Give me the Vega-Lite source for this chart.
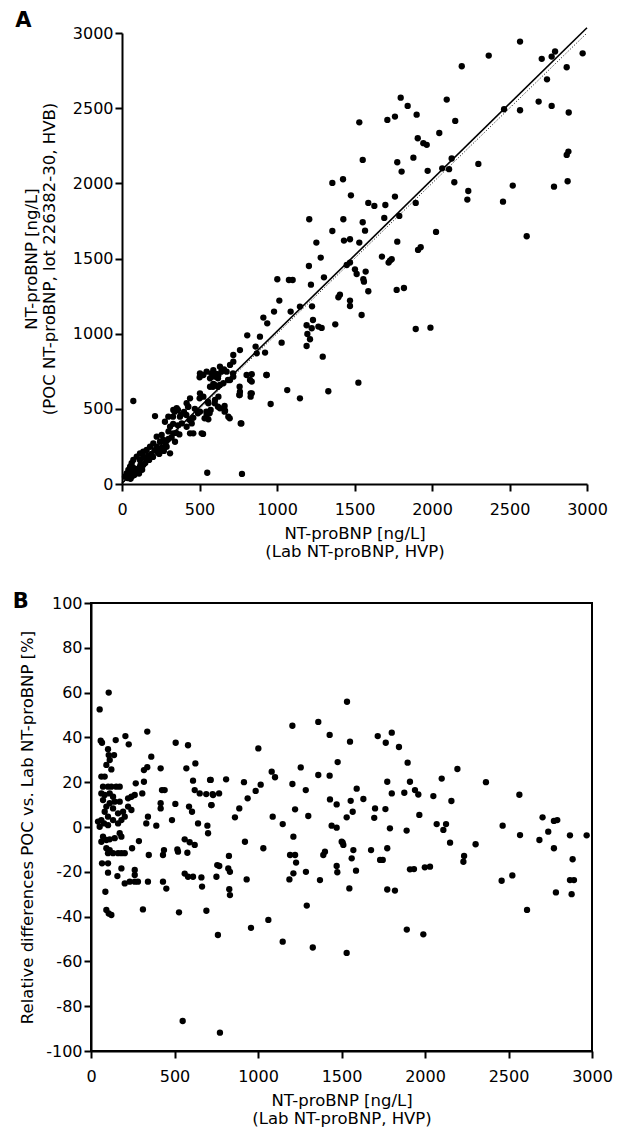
{
"$schema": "https://vega.github.io/schema/vega-lite/v6.json",
"padding": {"left": 11, "top": 9, "right": 5, "bottom": 5},
"vconcat": [
{
"width": 496, "height": 451,
"view": {"stroke": null},
"title": {"text": "A", "anchor": "start", "frame": "bounds", "font": "DejaVu Sans", "fontSize": 21, "fontWeight": "bold", "color": "black", "baseline": "bottom", "offset": -27, "dx": -8},
"layer": [
{"data": {"name": "a"}, "mark": {"type": "circle", "size": 40, "color": "black", "opacity": 1},
 "encoding": {
  "x": {"field": "lab", "type": "quantitative", "scale": {"domain": [0, 3000], "nice": false, "range": [31, 496]}, "axis": {"values": [0, 500, 1000, 1500, 2000, 2500, 3000], "format": "d", "title": ["NT-proBNP [ng/L]", "(Lab NT-proBNP, HVP)"]}},
  "y": {"field": "poc", "type": "quantitative", "scale": {"domain": [0, 3000], "nice": false}, "axis": {"offset": -31, "values": [0, 500, 1000, 1500, 2000, 2500, 3000], "format": "d", "titlePadding": 15, "title": ["NT-proBNP [ng/L]", "(POC NT-proBNP, lot 226382-30, HVB)"]}}
 }},
{"mark": {"type": "rule", "color": "black", "strokeWidth": 2}, "encoding": {"x": {"datum": 0, "type": "quantitative"}, "x2": {"datum": 3000}, "y": {"datum": 3000, "type": "quantitative"}}},
{"mark": {"type": "rule", "color": "black", "strokeWidth": 2}, "encoding": {"x": {"datum": 3000, "type": "quantitative"}, "y": {"datum": 0, "type": "quantitative"}, "y2": {"datum": 3000}}},
{"data": {"name": "fit"}, "mark": {"type": "line", "color": "black", "strokeWidth": 1.6, "clip": false},
 "encoding": {"x": {"field": "lab", "type": "quantitative"}, "y": {"field": "poc", "type": "quantitative"}}},
{"data": {"name": "ident"}, "mark": {"type": "line", "color": "black", "strokeWidth": 1, "strokeDash": [1, 2]},
 "encoding": {"x": {"field": "lab", "type": "quantitative"}, "y": {"field": "poc", "type": "quantitative"}}}
]
},
{
"width": 501, "height": 448,
"title": {"text": "B", "anchor": "start", "frame": "bounds", "font": "DejaVu Sans", "fontSize": 21, "fontWeight": "bold", "color": "black", "baseline": "bottom", "offset": -38, "dx": -7},
"layer": [
{"data": {"name": "b"}, "mark": {"type": "circle", "size": 40, "color": "black", "opacity": 1},
 "encoding": {
  "x": {"field": "lab", "type": "quantitative", "scale": {"domain": [0, 3000], "nice": false}, "axis": {"values": [0, 500, 1000, 1500, 2000, 2500, 3000], "format": "d", "title": ["NT-proBNP [ng/L]", "(Lab NT-proBNP, HVP)"]}},
  "y": {"field": "diff", "type": "quantitative", "scale": {"domain": [-100, 100], "nice": false}, "axis": {"values": [-100, -80, -60, -40, -20, 0, 20, 40, 60, 80, 100], "labelExpr": "datum.value < 0 ? '-' + abs(datum.value) : '' + datum.value", "titlePadding": 10, "title": "Relative differences POC vs. Lab NT-proBNP [%]"}}
 }},
{"mark": {"type": "rule", "color": "black", "strokeWidth": 2}, "encoding": {"y": {"datum": 0}}}
]
}
],
"spacing": 30,
"datasets": {
"a": [
{"lab":2568,"poc":2943},{"lab":2366,"poc":2850},{"lab":2192,"poc":2779},{"lab":2708,"poc":2828},{"lab":2772,"poc":2843},{"lab":2794,"poc":2877},{"lab":2972,"poc":2865},{"lab":2869,"poc":2772},{"lab":2742,"poc":2692},{"lab":1798,"poc":2570},{"lab":1843,"poc":2515},{"lab":2095,"poc":2557},{"lab":1531,"poc":2406},{"lab":1712,"poc":2422},{"lab":1761,"poc":2444},{"lab":1901,"poc":2457},{"lab":2150,"poc":2415},{"lab":2465,"poc":2493},{"lab":2568,"poc":2486},{"lab":2688,"poc":2544},{"lab":2772,"poc":2515},{"lab":2882,"poc":2471},{"lab":1908,"poc":2300},{"lab":1944,"poc":2267},{"lab":1966,"poc":2256},{"lab":2047,"poc":2335},{"lab":1553,"poc":2156},{"lab":1880,"poc":2171},{"lab":1776,"poc":2140},{"lab":1804,"poc":2078},{"lab":1972,"poc":2083},{"lab":2066,"poc":2100},{"lab":2110,"poc":2094},{"lab":2127,"poc":2165},{"lab":2299,"poc":2129},{"lab":2144,"poc":2007},{"lab":2234,"poc":1949},{"lab":2228,"poc":1892},{"lab":2458,"poc":1878},{"lab":2521,"poc":1985},{"lab":2869,"poc":2189},{"lab":2880,"poc":2211},{"lab":2787,"poc":1978},{"lab":2875,"poc":2014},{"lab":2611,"poc":1648},
{"lab":1357,"poc":2003},{"lab":1426,"poc":2027},{"lab":1477,"poc":1920},{"lab":1589,"poc":1870},{"lab":1628,"poc":1850},{"lab":1699,"poc":1856},{"lab":1761,"poc":1912},{"lab":1895,"poc":1870},{"lab":1208,"poc":1761},{"lab":1428,"poc":1761},{"lab":1553,"poc":1741},{"lab":1692,"poc":1770},{"lab":1789,"poc":1783},{"lab":1357,"poc":1683},{"lab":1568,"poc":1685},{"lab":1254,"poc":1606},{"lab":1432,"poc":1619},{"lab":1471,"poc":1628},{"lab":1531,"poc":1606},{"lab":1776,"poc":1612},{"lab":2026,"poc":1677},{"lab":1282,"poc":1506},{"lab":1677,"poc":1513},{"lab":1729,"poc":1486},{"lab":1720,"poc":1473},{"lab":1740,"poc":1495},{"lab":1910,"poc":1557},{"lab":1927,"poc":1575},{"lab":1206,"poc":1450},{"lab":1450,"poc":1457},{"lab":1471,"poc":1473},{"lab":1503,"poc":1428},{"lab":1514,"poc":1397},{"lab":1572,"poc":1413},{"lab":1303,"poc":1375},{"lab":1557,"poc":1362},
{"lab":1561,"poc":1346},{"lab":1589,"poc":1282},{"lab":1219,"poc":1326},{"lab":1226,"poc":1182},{"lab":1396,"poc":1242},{"lab":1406,"poc":1259},{"lab":1471,"poc":1220},{"lab":1471,"poc":1184},{"lab":1772,"poc":1291},{"lab":1819,"poc":1304},{"lab":1546,"poc":1124},{"lab":1376,"poc":1062},{"lab":1232,"poc":1091},{"lab":1191,"poc":1056},{"lab":1224,"poc":1036},{"lab":1288,"poc":1038},{"lab":1213,"poc":963},{"lab":1191,"poc":918},{"lab":1295,"poc":847},{"lab":1895,"poc":1031},{"lab":1990,"poc":1040},{"lab":1525,"poc":674},{"lab":1331,"poc":617},{"lab":1148,"poc":570},
{"lab":1002,"poc":1362},{"lab":1077,"poc":1357},{"lab":1101,"poc":1357},{"lab":1015,"poc":1220},{"lab":981,"poc":1147},{"lab":912,"poc":1107},{"lab":937,"poc":1069},{"lab":1088,"poc":1147},{"lab":1148,"poc":1180},{"lab":890,"poc":980},{"lab":862,"poc":914},{"lab":923,"poc":874},{"lab":1030,"poc":940},{"lab":837,"poc":730},{"lab":837,"poc":681},{"lab":837,"poc":603},{"lab":934,"poc":725},{"lab":1066,"poc":625},{"lab":959,"poc":532},{"lab":808,"poc":989},{"lab":869,"poc":869},{"lab":761,"poc":891},{"lab":718,"poc":858},{"lab":1196,"poc":998},{"lab":1267,"poc":1047},
{"lab":718,"poc":814},{"lab":697,"poc":792},{"lab":632,"poc":780},{"lab":658,"poc":763},{"lab":589,"poc":758},{"lab":546,"poc":747},{"lab":622,"poc":725},{"lab":600,"poc":714},{"lab":568,"poc":703},{"lab":525,"poc":725},{"lab":503,"poc":736},{"lab":697,"poc":692},{"lab":654,"poc":670},{"lab":632,"poc":659},{"lab":718,"poc":714},{"lab":675,"poc":747},{"lab":804,"poc":725},{"lab":826,"poc":692},{"lab":830,"poc":603},{"lab":830,"poc":581},{"lab":761,"poc":614},{"lab":757,"poc":592},{"lab":766,"poc":403},{"lab":589,"poc":665},{"lab":568,"poc":647},{"lab":622,"poc":581},{"lab":600,"poc":559},{"lab":503,"poc":603},{"lab":525,"poc":581},{"lab":557,"poc":537},{"lab":572,"poc":492},{"lab":546,"poc":459},{"lab":557,"poc":430},{"lab":632,"poc":504},{"lab":665,"poc":488},{"lab":686,"poc":448},{"lab":439,"poc":570},{"lab":428,"poc":514},{"lab":374,"poc":448},{"lab":385,"poc":403},{"lab":503,"poc":481},{"lab":417,"poc":537},{"lab":331,"poc":492},{"lab":353,"poc":504},{"lab":299,"poc":448},{"lab":277,"poc":414},{"lab":310,"poc":381},{"lab":331,"poc":337},{"lab":342,"poc":281},{"lab":439,"poc":337},{"lab":460,"poc":337},{"lab":514,"poc":337},{"lab":417,"poc":381},{"lab":450,"poc":403},{"lab":213,"poc":452},{"lab":73,"poc":552},{"lab":256,"poc":326},{"lab":224,"poc":315},{"lab":266,"poc":293},{"lab":245,"poc":281},{"lab":202,"poc":270},{"lab":181,"poc":248},{"lab":159,"poc":226},{"lab":137,"poc":215},{"lab":116,"poc":204},{"lab":310,"poc":204},{"lab":288,"poc":248},{"lab":224,"poc":248},{"lab":245,"poc":226},{"lab":95,"poc":182},{"lab":73,"poc":160},{"lab":62,"poc":138},{"lab":52,"poc":115},{"lab":41,"poc":93},{"lab":30,"poc":71},{"lab":19,"poc":49},{"lab":116,"poc":160},{"lab":137,"poc":182},{"lab":159,"poc":160},{"lab":137,"poc":126},{"lab":105,"poc":93},{"lab":116,"poc":115},{"lab":84,"poc":71},{"lab":62,"poc":49},
{"lab":501,"poc":710},{"lab":576,"poc":736},{"lab":609,"poc":732},{"lab":641,"poc":747},{"lab":716,"poc":736},{"lab":619,"poc":703},{"lab":598,"poc":659},{"lab":587,"poc":647},{"lab":619,"poc":647},{"lab":684,"poc":692},{"lab":931,"poc":725},{"lab":759,"poc":647},{"lab":759,"poc":592},{"lab":501,"poc":570},{"lab":555,"poc":548},{"lab":598,"poc":537},{"lab":619,"poc":514},{"lab":662,"poc":519},{"lab":662,"poc":481},{"lab":695,"poc":437},{"lab":770,"poc":403},{"lab":523,"poc":333},{"lab":426,"poc":514},{"lab":361,"poc":492},{"lab":340,"poc":481},{"lab":329,"poc":448},{"lab":415,"poc":459},{"lab":437,"poc":426},{"lab":490,"poc":470},{"lab":544,"poc":481},{"lab":533,"poc":437},{"lab":565,"poc":470},{"lab":550,"poc":75},{"lab":774,"poc":67},
{"lab":90,"poc":100},{"lab":100,"poc":85},{"lab":120,"poc":130},{"lab":150,"poc":140},{"lab":170,"poc":190},{"lab":190,"poc":200},{"lab":200,"poc":180},{"lab":230,"poc":210},{"lab":260,"poc":240},{"lab":280,"poc":270},{"lab":300,"poc":300},{"lab":320,"poc":310},{"lab":350,"poc":340},{"lab":370,"poc":330},{"lab":60,"poc":80},{"lab":80,"poc":60},{"lab":110,"poc":70},{"lab":130,"poc":95},{"lab":70,"poc":110},{"lab":45,"poc":60},{"lab":35,"poc":40},{"lab":55,"poc":35},{"lab":150,"poc":175},{"lab":175,"poc":160},{"lab":210,"poc":225},{"lab":240,"poc":200},{"lab":270,"poc":220},{"lab":290,"poc":290},{"lab":330,"poc":400},{"lab":360,"poc":390},{"lab":300,"poc":350},{"lab":380,"poc":460},{"lab":400,"poc":480},{"lab":460,"poc":440},{"lab":470,"poc":500}
],
"fit": [{"lab":0,"poc":5},{"lab":3000,"poc":3035}],
"ident": [{"lab":0,"poc":0},{"lab":3000,"poc":3000}],
"b": [
{"lab":106,"diff":60},{"lab":52,"diff":52.5},{"lab":58,"diff":38.5},{"lab":66,"diff":37.6},{"lab":148,"diff":38.8},{"lab":206,"diff":40.6},{"lab":226,"diff":36.9},{"lab":337,"diff":42.6},{"lab":507,"diff":37.6},{"lab":581,"diff":36.5},
{"lab":102,"diff":34.7},{"lab":106,"diff":32.1},{"lab":138,"diff":32.1},{"lab":112,"diff":29.9},{"lab":122,"diff":25.7},{"lab":92,"diff":27.7},
{"lab":361,"diff":31.4},{"lab":417,"diff":26.2},{"lab":317,"diff":25.4},{"lab":337,"diff":26.7},{"lab":571,"diff":26.2},{"lab":625,"diff":28.4},
{"lab":62,"diff":22.5},{"lab":82,"diff":22.5},{"lab":317,"diff":20.2},{"lab":268,"diff":19.5},{"lab":307,"diff":15},{"lab":425,"diff":16.5},{"lab":441,"diff":16.5},
{"lab":611,"diff":20.7},{"lab":717,"diff":21},{"lab":621,"diff":16.5},{"lab":651,"diff":15},{"lab":690,"diff":14.7},{"lab":731,"diff":14.3},
{"lab":72,"diff":18},{"lab":102,"diff":18},{"lab":122,"diff":18},{"lab":151,"diff":18},{"lab":172,"diff":18},{"lab":62,"diff":15},{"lab":82,"diff":14.3},{"lab":112,"diff":15},{"lab":132,"diff":13.5},
{"lab":222,"diff":12.8},{"lab":242,"diff":13.5},{"lab":262,"diff":14.3},
{"lab":72,"diff":12},{"lab":92,"diff":9.1},{"lab":112,"diff":10.6},{"lab":142,"diff":11.3},{"lab":172,"diff":11.3},{"lab":82,"diff":6.8},{"lab":102,"diff":4.6},{"lab":132,"diff":8.3},{"lab":162,"diff":6.1},{"lab":192,"diff":6.8},{"lab":202,"diff":4.6},{"lab":222,"diff":9.1},{"lab":242,"diff":7.6},{"lab":62,"diff":3.1},{"lab":78,"diff":1.6},{"lab":102,"diff":0.8},{"lab":132,"diff":3.1},{"lab":162,"diff":1.6},{"lab":182,"diff":3.1},{"lab":42,"diff":2.4},{"lab":52,"diff":0.1},
{"lab":417,"diff":10.6},{"lab":417,"diff":8.3},{"lab":505,"diff":10.3},{"lab":587,"diff":9.1},{"lab":605,"diff":6.8},{"lab":485,"diff":3.1},{"lab":341,"diff":4.6},{"lab":331,"diff":1.6},{"lab":391,"diff":0.6},{"lab":641,"diff":1.6},{"lab":697,"diff":0.6},{"lab":720,"diff":9.8},
{"lab":72,"diff":-4.3},{"lab":92,"diff":-5.8},{"lab":62,"diff":-6.6},{"lab":112,"diff":-5.5},{"lab":142,"diff":-5},{"lab":172,"diff":-2.8},{"lab":182,"diff":-4.3},{"lab":287,"diff":-6.3},{"lab":561,"diff":-5.5},{"lab":591,"diff":-6.8},{"lab":621,"diff":-8},{"lab":701,"diff":-2.8},
{"lab":92,"diff":-9.5},{"lab":102,"diff":-11.7},{"lab":132,"diff":-11.7},{"lab":162,"diff":-11.7},{"lab":182,"diff":-11.7},{"lab":202,"diff":-11.7},{"lab":112,"diff":-10.3},
{"lab":246,"diff":-9.5},{"lab":346,"diff":-12.5},{"lab":437,"diff":-10.3},{"lab":431,"diff":-12.5},{"lab":517,"diff":-10},{"lab":521,"diff":-11},{"lab":577,"diff":-11.5},
{"lab":66,"diff":-16.2},{"lab":102,"diff":-16.2},{"lab":102,"diff":-20.4},{"lab":182,"diff":-18.5},{"lab":158,"diff":-21.9},{"lab":202,"diff":-25.2},{"lab":232,"diff":-24.4},{"lab":262,"diff":-24.4},{"lab":281,"diff":-24.4},{"lab":262,"diff":-19.2},{"lab":262,"diff":-21.4},{"lab":341,"diff":-24.4},{"lab":431,"diff":-24.4},{"lab":451,"diff":-27.5},{"lab":561,"diff":-20.8},{"lab":581,"diff":-22.2},{"lab":611,"diff":-22.2},{"lab":661,"diff":-22.5},{"lab":665,"diff":-26.6},{"lab":756,"diff":-17},{"lab":751,"diff":-22.2},
{"lab":86,"diff":-28.9},{"lab":92,"diff":-37},{"lab":106,"diff":-38.6},{"lab":122,"diff":-39.3},{"lab":311,"diff":-36.8},{"lab":527,"diff":-38.1},{"lab":691,"diff":-37.4},{"lab":760,"diff":-48.2},
{"lab":549,"diff":-86.6},{"lab":772,"diff":-91.8},
{"lab":768,"diff":-17.4},{"lab":822,"diff":-18.5},{"lab":832,"diff":-20},{"lab":828,"diff":-27.8},{"lab":832,"diff":-30.4},{"lab":826,"diff":-12.9},{"lab":932,"diff":-23.4},{"lab":958,"diff":-45},{"lab":1062,"diff":-41.5},{"lab":1032,"diff":-9.5},{"lab":922,"diff":-6.6},{"lab":1148,"diff":-51.2},{"lab":1328,"diff":-53.8},{"lab":1292,"diff":-35.1},{"lab":1287,"diff":-20},{"lab":1192,"diff":-12.5},{"lab":1222,"diff":-12.5},{"lab":1228,"diff":-15.9},{"lab":1212,"diff":-20.7},{"lab":1188,"diff":-23.4},{"lab":1371,"diff":-23.7},{"lab":1212,"diff":-4.3},
{"lab":1401,"diff":-11},{"lab":1391,"diff":-12.5},{"lab":1471,"diff":-17.4},{"lab":1475,"diff":-20.2},{"lab":1501,"diff":-6.6},{"lab":1511,"diff":-8},{"lab":1571,"diff":-10.3},{"lab":1561,"diff":-14},{"lab":1587,"diff":-19.5},{"lab":1547,"diff":-27.4},{"lab":1531,"diff":-56.2},{"lab":1677,"diff":-10.3},{"lab":1731,"diff":-14.7},{"lab":1747,"diff":-14.7},{"lab":1774,"diff":-9.5},{"lab":1774,"diff":-27.9},{"lab":1820,"diff":-28.4},{"lab":1891,"diff":-45.8},{"lab":1990,"diff":-47.9},{"lab":1910,"diff":-18.9},{"lab":1934,"diff":-18.8},{"lab":1999,"diff":-18},{"lab":2030,"diff":-17.7},{"lab":2150,"diff":-7},{"lab":2234,"diff":-12.9},{"lab":2230,"diff":-15.5},{"lab":2303,"diff":-7.7},{"lab":2459,"diff":-24},{"lab":2523,"diff":-21.6},{"lab":2611,"diff":-37},{"lab":2685,"diff":-5.8},{"lab":2772,"diff":-9.5},{"lab":2784,"diff":-29.2},{"lab":2868,"diff":-23.7},{"lab":2892,"diff":-23.7},{"lab":2878,"diff":-30},{"lab":2884,"diff":-14.4},
{"lab":1533,"diff":55.9},{"lab":1361,"diff":46.9},{"lab":1429,"diff":41.1},{"lab":1551,"diff":38.1},{"lab":1717,"diff":40.6},{"lab":1765,"diff":37.6},{"lab":1801,"diff":42.1},{"lab":1844,"diff":35.7},{"lab":1477,"diff":29},{"lab":1896,"diff":28.7},{"lab":1361,"diff":23.2},{"lab":1429,"diff":22.9},{"lab":1256,"diff":26.6},{"lab":1286,"diff":16.5},{"lab":1591,"diff":17.1},{"lab":1631,"diff":12.5},{"lab":1555,"diff":11.7},{"lab":1431,"diff":12.3},{"lab":1471,"diff":10.1},{"lab":1301,"diff":4.9},{"lab":1531,"diff":4.3},{"lab":1567,"diff":6.8},{"lab":1701,"diff":8.3},{"lab":1763,"diff":8},{"lab":1696,"diff":4.1},{"lab":1774,"diff":20.2},{"lab":1801,"diff":15},{"lab":1876,"diff":15.3},{"lab":1910,"diff":20.2},{"lab":1940,"diff":16.5},{"lab":1960,"diff":14.5},{"lab":1966,"diff":5.4},{"lab":2050,"diff":13.8},{"lab":2100,"diff":21.6},{"lab":2158,"diff":11.6},{"lab":2194,"diff":25.9},{"lab":2070,"diff":1.3},{"lab":2126,"diff":1.3},{"lab":2110,"diff":-1.3},{"lab":2365,"diff":20},{"lab":2465,"diff":0.6},{"lab":2565,"diff":14.4},{"lab":2704,"diff":4.3},{"lab":2772,"diff":2.7},{"lab":2792,"diff":3.1},{"lab":2738,"diff":-2.1},{"lab":2569,"diff":-3.6},{"lab":2868,"diff":-3.7},{"lab":2968,"diff":-3.7},{"lab":1441,"diff":0.6},{"lab":1471,"diff":-0.3},{"lab":1790,"diff":-0.6},{"lab":1890,"diff":-1.6},{"lab":1507,"diff":-7},
{"lab":1206,"diff":45.2},{"lab":1002,"diff":35.1},{"lab":1082,"diff":24.7},{"lab":1102,"diff":22.2},{"lab":1206,"diff":19.2},{"lab":713,"diff":21},{"lab":809,"diff":21.3},{"lab":728,"diff":14.7},{"lab":767,"diff":15},{"lab":722,"diff":9.8},{"lab":916,"diff":20},{"lab":1016,"diff":18.9},{"lab":986,"diff":16.1},{"lab":938,"diff":12.8},{"lab":888,"diff":8.3},{"lab":862,"diff":4.3},{"lab":1088,"diff":4.6},{"lab":1148,"diff":1.3},{"lab":1222,"diff":7.9}
]
},
"config": {
 "view": {"stroke": "black", "strokeWidth": 2},
 "axis": {"grid": false, "domainColor": "black", "domainWidth": 2, "tickColor": "black", "tickWidth": 2, "tickSize": 7, "labelColor": "black", "labelFont": "DejaVu Sans", "labelFontSize": 16, "labelFlush": false, "labelOverlap": false, "titleFont": "DejaVu Sans", "titleFontSize": 16.5, "titleFontWeight": "normal", "titleColor": "black", "titleLineHeight": 18},
 "axisX": {"labelPadding": 10, "titlePadding": 8},
 "axisY": {"labelPadding": 2, "titlePadding": 8}
}
}
